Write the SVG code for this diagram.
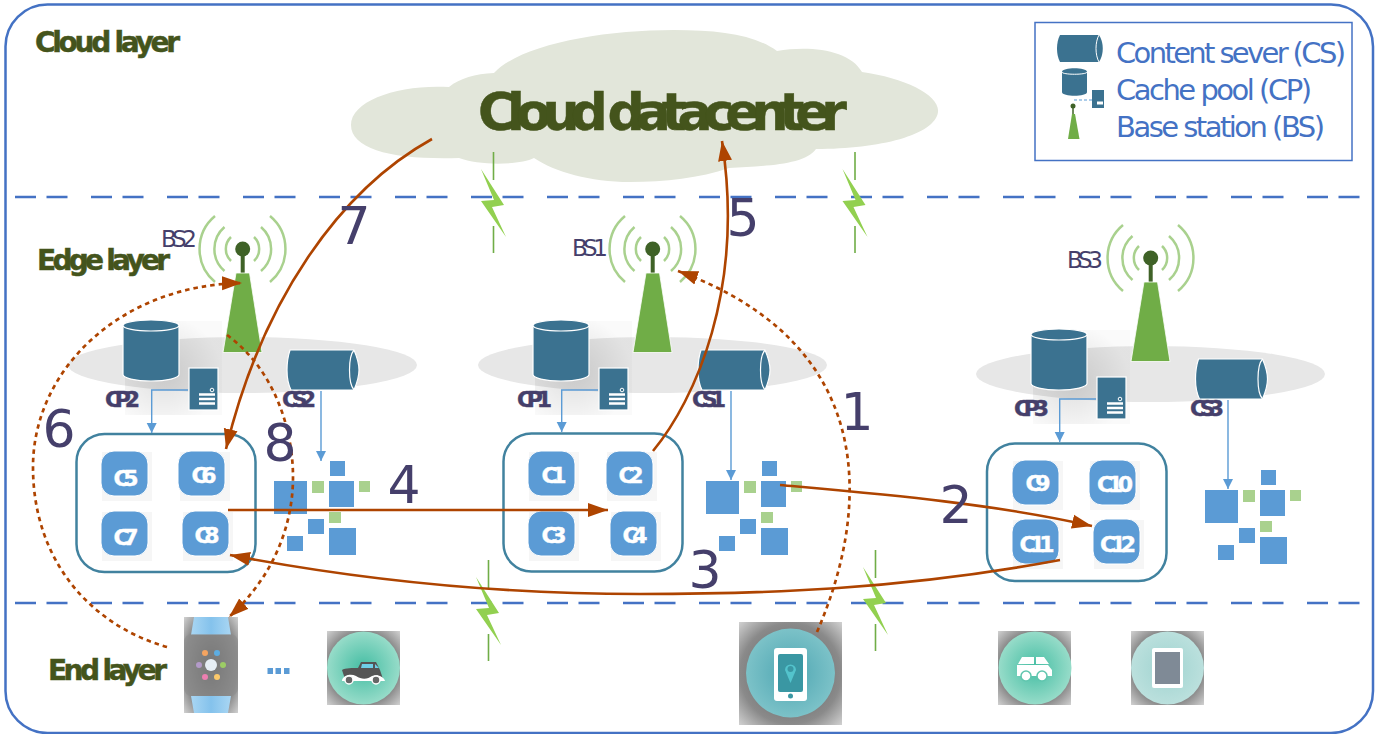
<svg xmlns="http://www.w3.org/2000/svg" width="1390" height="734" viewBox="0 0 1390 734">
<style>
text{font-family:"DejaVu Sans","Liberation Sans",sans-serif}
.frame{fill:none;stroke:#4472c4;stroke-width:2.5}
.layer{stroke:#4472c4;stroke-width:2.5;stroke-dasharray:21 10.5 21 23.5;fill:none}
.title{fill:#44541c;stroke:#44541c;stroke-width:.5;font-weight:bold}
.legend{fill:#4472c4;font-size:29px}
.num{fill:#453f6b;font-size:52px;text-anchor:middle}
.bsl{fill:#453f6b;font-size:23px}
.lbl{fill:#453f6b;stroke:#453f6b;stroke-width:.4;font-size:22px;font-weight:bold}
.box{fill:#fff;stroke:#41829f;stroke-width:2.5}
.cell{fill:#5b9bd5;stroke:#fff;stroke-width:1}
.cellbg{fill:#f6f6f6}
.ct{fill:#fff;stroke:#fff;stroke-width:.4;font-size:22px;font-weight:bold;text-anchor:middle}
.cyl{fill:#3b7290;stroke:#fff;stroke-width:1.2}
.blue{fill:#5b9bd5}
.green{fill:#a9d18e}
.wave{fill:none;stroke:#a9d18e;stroke-width:2.5}
.link{fill:none;stroke:#5b9bd5;stroke-width:1.4}
.flow{fill:none;stroke:#ae4400;stroke-width:2.6;marker-end:url(#head)}
.dot{fill:none;stroke:#ae4400;stroke-width:2.7;stroke-dasharray:4.5 4;marker-end:url(#head)}
.bolt{fill:#92d050}
.bl{stroke:#70ad47;stroke-width:1.6;fill:none}
.wh{fill:#fff}
</style>
<defs>
<marker id="head" markerUnits="userSpaceOnUse" markerWidth="21" markerHeight="15" refX="20" refY="7.5" orient="auto"><path d="M0,0.5L20,7.5L0,14.5Z" fill="#ae4400"/></marker>
<marker id="tip" markerUnits="userSpaceOnUse" markerWidth="11" markerHeight="11" refX="10" refY="5" orient="auto"><path d="M0,0L10,5L0,10Z" fill="#5b9bd5"/></marker>
<radialGradient id="halo" cx=".5" cy=".5" r=".7"><stop offset="0" stop-color="#5a5a5a"/><stop offset=".7" stop-color="#8a8a8a"/><stop offset="1" stop-color="#cfcfcf"/></radialGradient>
<radialGradient id="shade" cx=".4" cy=".55" r=".6"><stop offset="0" stop-color="#000" stop-opacity=".13"/><stop offset="1" stop-color="#000" stop-opacity=".02"/></radialGradient>
<radialGradient id="mint" cx=".5" cy=".5" r=".5"><stop offset="0" stop-color="#44bda3"/><stop offset="1" stop-color="#97dcc9"/></radialGradient>
<radialGradient id="teal" cx=".5" cy=".5" r=".5"><stop offset="0" stop-color="#4ea6b2"/><stop offset="1" stop-color="#7cc2c8"/></radialGradient>
<radialGradient id="pale" cx=".5" cy=".5" r=".5"><stop offset="0" stop-color="#9fd3d0"/><stop offset="1" stop-color="#bbe0dd"/></radialGradient>
<linearGradient id="band" x1="0" x2="1" y1="0" y2="0"><stop offset="0" stop-color="#a9d6f3"/><stop offset=".5" stop-color="#84c2ec"/><stop offset="1" stop-color="#a9d6f3"/></linearGradient>
<g id="cpIcon">
<rect x="535" y="321" width="97" height="94" fill="url(#shade)"/>
<path class="cyl" d="M533,325.500V374.500C533,378 545,381 561,381C577,381 589,378 589,374.500V325.500C589,322 577,320 561,320C545,320 533,322 533,325.500Z"/>
<ellipse cx="561" cy="325.500" rx="28" ry="5.500" class="cyl"/>
<rect class="cyl" x="599" y="368" width="29" height="42"/>
<circle cx="622" cy="390" r="1.800" fill="none" stroke="#fff"/>
<path d="M609,394.500H625M609,399H625M609,403.500H625" stroke="#fff" stroke-width="2.500"/>
</g>
<g id="csIcon">
<path class="cyl" d="M701,350H765C768,357 770,363 770,370C770,377 768,383 765,390H702C699,384 698,377 698,370C698,362 699,356 701,350Z"/>
<path d="M765,350C759,357 759,383 765,390" fill="none" stroke="#fff" stroke-width="1.200"/>
</g>
<g id="bsIcon">
<path class="wave" d="M641,237A16.500,16.500 0 0 0 641,261M664,237A16.500,16.500 0 0 1 664,261M634.500,227A29,29 0 0 0 634.500,271M671,227A29,29 0 0 1 671,271M625,216A43,43 0 0 0 625,282M680,216A43,43 0 0 1 680,282"/>
<circle cx="652.700" cy="249" r="7.500" fill="#3f6227"/>
<rect x="650.700" y="250" width="4" height="23" fill="#3f6227"/>
<path d="M646,273H659.500L672,352.500H633Z" fill="#70ad47" stroke="#fff" stroke-width=".8"/>
</g>
<g id="pile">
<rect class="blue" x="706" y="481" width="33" height="33"/>
<rect class="blue" x="762" y="461" width="15" height="15"/>
<rect class="green" x="744" y="481" width="12" height="12"/>
<rect class="blue" x="761" y="481" width="25" height="26"/>
<rect class="green" x="791" y="481" width="11" height="11"/>
<rect class="green" x="761" y="512" width="12" height="11"/>
<rect class="blue" x="740" y="519" width="16" height="15"/>
<rect class="blue" x="719" y="536" width="16" height="15"/>
<rect class="blue" x="761" y="528" width="27" height="27"/>
</g>
<g id="boltIcon">
<path class="bl" d="M493.500,152V180M493.500,226V253"/>
<path class="bolt" d="M481,169L504,205L492,207L506,237L481,201L494,200Z"/>
</g>
</defs>

<rect class="frame" x="5.500" y="4.500" width="1367.500" height="728.500" rx="42"/>
<path class="layer" d="M15,197H1368"/>
<path class="layer" d="M15,603H1368"/>

<g id="cloud">
<path fill="#e2e6da" d="M351,125C351,100 400,84 449,87C460,78 475,74 494,73C520,45 600,30 674,30C720,30 755,35 777,51C810,45 850,50 862,72C905,78 940,95 938,112C935,135 880,149 816,149C805,165 765,166 729,168C700,178 665,182 630,182C590,182 555,172 534,158C520,165 480,166 459,158C395,160 351,150 351,125Z"/>
<text class="title" x="478" y="130" font-size="52" textLength="369">Cloud datacenter</text>
</g>
<text class="title" x="35" y="52" font-size="28" textLength="145">Cloud layer</text>
<text class="title" x="37" y="270" font-size="28" textLength="133">Edge layer</text>
<text class="title" x="48" y="680" font-size="28" textLength="119">End layer</text>

<g id="legend">
<rect x="1035" y="22.500" width="317" height="138" fill="#fff" stroke="#4472c4" stroke-width="1.500"/>
<path d="M1060,35H1099C1104,42 1104,55 1099,62H1060C1056,55 1056,42 1060,35Z" fill="#3b7290"/>
<path d="M1099,35C1095,42 1095,55 1099,62" fill="none" stroke="#fff"/>
<path d="M1062,72C1062,67 1087,67 1087,72V92C1087,97 1062,97 1062,92Z" fill="#3b7290"/>
<path d="M1062,72C1062,75 1087,75 1087,72" fill="none" stroke="#fff"/>
<rect x="1092" y="90" width="12" height="18" fill="#3b7290"/>
<path d="M1074,100H1092" stroke="#5b9bd5" stroke-dasharray="3 2"/>
<path d="M1097,103H1103" stroke="#fff" stroke-width="3"/>
<circle cx="1073" cy="106" r="2.500" fill="#3f6227"/>
<path d="M1073,106V114" stroke="#3f6227" stroke-width="1.500"/>
<path d="M1072,114H1075L1079.500,139H1068Z" fill="#70ad47"/>
<text class="legend" x="1116" y="63" textLength="230">Content sever (CS)</text>
<text class="legend" x="1116" y="100" textLength="196">Cache pool (CP)</text>
<text class="legend" x="1116" y="137" textLength="209">Base station (BS)</text>
</g>

<g id="edge-area-1"><ellipse cx="652.500" cy="365" rx="174.500" ry="28" fill="#e7e7e7"/></g>
<g id="edge-area-2"><ellipse cx="242.500" cy="365" rx="174.500" ry="28" fill="#e7e7e7"/></g>
<g id="edge-area-3"><ellipse cx="1150.500" cy="374" rx="174.500" ry="28" fill="#e7e7e7"/></g>

<g id="bolts">
<use href="#boltIcon"/>
<use href="#boltIcon" transform="translate(361.500,0)"/>
<use href="#boltIcon" transform="translate(-5,408)"/>
<use href="#boltIcon" transform="translate(382,398)"/>
</g>

<g id="BS1"><use href="#bsIcon"/><text class="bsl" x="572" y="256" textLength="36">BS1</text></g>
<g id="BS2"><use href="#bsIcon" transform="translate(-410,0)"/><text class="bsl" x="161" y="247" textLength="36">BS2</text></g>
<g id="BS3"><use href="#bsIcon" transform="translate(498,9)"/><text class="bsl" x="1067" y="268" textLength="36">BS3</text></g>

<g id="CP1"><use href="#cpIcon"/><text class="lbl" x="517" y="407" textLength="35">CP1</text></g>
<g id="CP2"><use href="#cpIcon" transform="translate(-410,0)"/><text class="lbl" x="105" y="407" textLength="35">CP2</text></g>
<g id="CP3"><use href="#cpIcon" transform="translate(498,9)"/><text class="lbl" x="1014" y="416" textLength="35">CP3</text></g>
<g id="CS1"><use href="#csIcon"/><text class="lbl" x="692" y="407" textLength="34">CS1</text></g>
<g id="CS2"><use href="#csIcon" transform="translate(-411,0)"/><text class="lbl" x="282" y="407" textLength="34">CS2</text></g>
<g id="CS3"><use href="#csIcon" transform="translate(497.500,9)"/><text class="lbl" x="1190" y="416" textLength="34">CS3</text></g>

<g id="cluster2">
<rect class="box" x="76.500" y="434" width="179" height="138" rx="28"/>
<rect class="cellbg" x="102" y="452" width="50" height="49"/><rect class="cell" x="101" y="451" width="47" height="45" rx="13"/><text class="ct" x="126" y="486" textLength="25">C5</text>
<rect class="cellbg" x="180" y="452" width="50" height="49"/><rect class="cell" x="178" y="451" width="47" height="45" rx="13"/><text class="ct" x="204" y="483" textLength="25">C6</text>
<rect class="cellbg" x="102" y="512" width="50" height="49"/><rect class="cell" x="101" y="511" width="47" height="45" rx="13"/><text class="ct" x="126" y="545" textLength="25">C7</text>
<rect class="cellbg" x="183" y="512" width="50" height="49"/><rect class="cell" x="182" y="511" width="47" height="45" rx="13"/><text class="ct" x="207" y="543" textLength="25">C8</text>
</g>
<g id="cluster1">
<rect class="box" x="503.500" y="433.500" width="179" height="138" rx="28"/>
<rect class="cellbg" x="529" y="452" width="50" height="49"/><rect class="cell" x="528" y="451" width="47" height="45" rx="13"/><text class="ct" x="554" y="483" textLength="25">C1</text>
<rect class="cellbg" x="607" y="452" width="50" height="49"/><rect class="cell" x="606" y="451" width="47" height="45" rx="13"/><text class="ct" x="631" y="483" textLength="25">C2</text>
<rect class="cellbg" x="529" y="512" width="50" height="49"/><rect class="cell" x="528" y="511" width="47" height="45" rx="13"/><text class="ct" x="554" y="543" textLength="25">C3</text>
<rect class="cellbg" x="611" y="512" width="50" height="49"/><rect class="cell" x="610" y="511" width="47" height="45" rx="13"/><text class="ct" x="635" y="543" textLength="25">C4</text>
</g>
<g id="cluster3">
<rect class="box" x="987" y="443.500" width="179.500" height="137.500" rx="28"/>
<rect class="cellbg" x="1013" y="461" width="50" height="49"/><rect class="cell" x="1012" y="460" width="47" height="45" rx="13"/><text class="ct" x="1038" y="491" textLength="25">C9</text>
<rect class="cellbg" x="1090" y="461" width="50" height="49"/><rect class="cell" x="1089" y="460" width="47" height="45" rx="13"/><text class="ct" x="1115" y="492" textLength="36">C10</text>
<rect class="cellbg" x="1013" y="520" width="50" height="49"/><rect class="cell" x="1012" y="519" width="47" height="45" rx="13"/><text class="ct" x="1037" y="552" textLength="35">C11</text>
<rect class="cellbg" x="1094" y="520" width="50" height="49"/><rect class="cell" x="1093" y="519" width="47" height="45" rx="13"/><text class="ct" x="1118" y="552" textLength="36">C12</text>
</g>

<g id="pile1"><use href="#pile"/></g>
<g id="pile2"><use href="#pile" transform="translate(-432,0)"/></g>
<g id="pile3"><use href="#pile" transform="translate(499,9)"/></g>

<g id="device-watch">
<rect x="184" y="617" width="54" height="96" fill="url(#halo)"/>
<path d="M194,617H228L231,635H191ZM191,696H231L228,713H194Z" fill="url(#band)"/>
<rect x="184" y="634" width="54" height="62" rx="8" fill="#8c8c8c" opacity=".6"/>
<circle cx="211" cy="665" r="6" fill="#e6eef5"/>
<circle cx="205" cy="653" r="3" fill="#f4a460"/><circle cx="217" cy="653" r="3" fill="#5dade2"/>
<circle cx="199" cy="665" r="3" fill="#b39ac9"/><circle cx="223" cy="665" r="3" fill="#9ccc65"/>
<circle cx="205" cy="677" r="3" fill="#ec7fb0"/><circle cx="217" cy="677" r="3" fill="#fbc96b"/>
</g>
<g id="ellipsis"><rect class="blue" x="267.500" y="668" width="5.500" height="6"/><rect class="blue" x="275.500" y="668" width="5.500" height="6"/><rect class="blue" x="284" y="668" width="5.500" height="6"/></g>
<g id="device-oldcar">
<rect x="327" y="631" width="73" height="74" fill="url(#halo)"/>
<circle cx="363.500" cy="668" r="36.500" fill="url(#mint)"/>
<path d="M342,670C345,668 353,668 358,668L361,662H376L380,670L383,679H345Z" fill="#555"/>
<path d="M362,664H373V668H361ZM375,664L379,668H375Z" fill="#6fd0e8"/>
<path d="M342,681C342,676 350,673 356,676C362,680 368,679 372,676C378,674 384,677 385,681Z" fill="#fff"/>
<circle cx="349" cy="680" r="4" fill="#666" stroke="#fff" stroke-width="1.500"/><circle cx="376" cy="680" r="4" fill="#666" stroke="#fff" stroke-width="1.500"/>
</g>
<g id="device-phone">
<rect x="739" y="622" width="103" height="103" fill="url(#halo)"/>
<circle cx="790.500" cy="673" r="44.500" fill="url(#teal)"/>
<rect class="wh" x="774" y="648" width="33" height="53" rx="3"/>
<rect x="778" y="654" width="25" height="38" rx="2" fill="#3a97a3"/>
<path d="M785,670A5.500,5.500 0 1 1 796,670L790.500,683Z" fill="#53c3cc"/><circle cx="790.500" cy="669" r="3" fill="#3a97a3"/>
<circle cx="790.500" cy="696" r="2.500" fill="#3a97a3"/>
</g>
<g id="device-car">
<rect x="998" y="631" width="73" height="74" fill="url(#halo)"/>
<circle cx="1035" cy="668" r="36.500" fill="url(#mint)"/>
<path class="wh" d="M1022,657H1034V664H1018ZM1036,657H1044L1049,664H1036ZM1017,665H1048L1052,670V676H1017Z"/>
<circle cx="1026" cy="676" r="5" class="wh" stroke="#5fc6ae" stroke-width="1.500"/><circle cx="1042" cy="676" r="5" class="wh" stroke="#5fc6ae" stroke-width="1.500"/>
</g>
<g id="device-tablet">
<rect x="1131" y="631" width="73" height="74" fill="url(#halo)"/>
<circle cx="1167.500" cy="668" r="36.500" fill="url(#pale)"/>
<rect class="wh" x="1152" y="648" width="31" height="40" rx="2"/>
<rect x="1155" y="652" width="25" height="32" fill="#7f8a96"/>
</g>

<g id="connectors">
<path class="link" marker-end="url(#tip)" d="M598,390H561.700V432"/>
<path class="link" marker-end="url(#tip)" d="M188,390H151.700V433"/>
<path class="link" marker-end="url(#tip)" d="M1096,399H1059.700V442"/>
<path class="link" marker-end="url(#tip)" d="M731,391V480"/>
<path class="link" marker-end="url(#tip)" d="M321,391V461"/>
<path class="link" marker-end="url(#tip)" d="M1228,400V489"/>
<path class="dot" d="M817,632C870,510 880,345 678,271"/>
<path class="dot" d="M167,647C90,625 33,560 33,467C33,370 120,285 242,283"/>
<path class="dot" d="M227,335C275,370 293,430 293,477C293,530 270,580 229,617"/>
<path class="flow" d="M432,139C340,190 262,300 226,449"/>
<path class="flow" d="M653,451C695,400 745,290 722,141"/>
<path class="flow" d="M228,510H608"/>
<path class="flow" d="M780,485C880,494 990,503 1092,526"/>
<path class="flow" d="M1060,560C900,590 760,594 640,594C500,594 360,580 230,555"/>
</g>

<g id="numbers">
<text class="num" x="857" y="430">1</text>
<text class="num" x="956" y="523">2</text>
<text class="num" x="705" y="588">3</text>
<text class="num" x="404" y="503">4</text>
<text class="num" x="743" y="236">5</text>
<text class="num" x="59" y="447">6</text>
<text class="num" x="354" y="244">7</text>
<text class="num" x="280" y="461">8</text>
</g>
</svg>
